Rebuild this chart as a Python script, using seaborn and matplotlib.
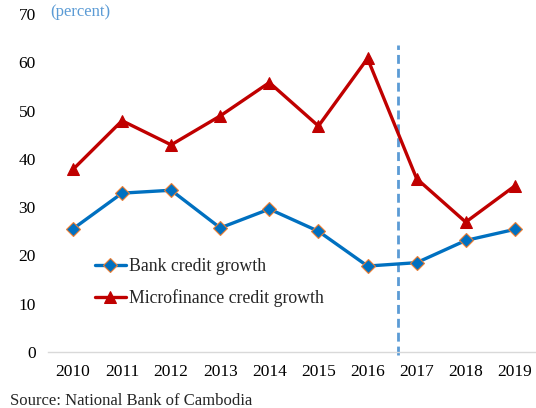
import matplotlib
matplotlib.use("Agg")
import matplotlib.pyplot as plt
import seaborn as sns
import pandas as pd

years = [2010, 2011, 2012, 2013, 2014, 2015, 2016, 2017, 2018, 2019]
bank_growth = [25.5, 32.9, 33.5, 25.7, 29.6, 25.0, 17.8, 18.5, 23.1, 25.4]
mfi_growth = [37.8, 47.9, 42.9, 48.9, 55.8, 46.8, 60.8, 35.9, 26.9, 34.4]
series_names = ["Bank credit growth", "Microfinance credit growth"]
y_ticks = [0, 10, 20, 30, 40, 50, 60, 70]
break_year = 2016.63

sns.set_theme(style="white")
plt.rcParams["font.family"] = ["Liberation Serif", "DejaVu Serif"]

df = pd.DataFrame({
    "year": years * 2,
    "growth": bank_growth + mfi_growth,
    "series": [series_names[0]] * len(years) + [series_names[1]] * len(years),
})

fig = plt.figure(figsize=(5.36, 4.08), dpi=100)
ax = fig.add_axes([48.4 / 536, 56 / 408, 491 / 536, 338 / 408])

blue = "#0070C0"
red = "#C00000"

sns.lineplot(data=df[df.series == series_names[0]], x="year", y="growth",
             ax=ax, color=blue, linewidth=2.4, marker="D", markersize=7,
             markerfacecolor=blue, markeredgecolor="#ED7D31", markeredgewidth=0.8,
             label=series_names[0], zorder=3)
sns.lineplot(data=df[df.series == series_names[1]], x="year", y="growth",
             ax=ax, color=red, linewidth=2.4, marker="^", markersize=8.5,
             markerfacecolor=red, markeredgecolor=red,
             label=series_names[1], zorder=3)

ax.plot([break_year, break_year], [-0.6, 63.5], color="#5B9BD5",
        linestyle=(0, (3.2, 1.8)), linewidth=2.0, zorder=2, clip_on=False)

ax.set_xlim(2009.5, 2019.5)
ax.set_ylim(0, 70)
ax.set_xticks(years)
ax.set_xticklabels([str(y) for y in years])
ax.set_yticks(y_ticks)
ax.set_xlabel("")
ax.set_ylabel("")
for s in ["top", "right", "left"]:
    ax.spines[s].set_visible(False)
ax.spines["bottom"].set_color("#D9D9D9")
ax.spines["bottom"].set_linewidth(1.0)
ax.tick_params(axis="both", length=0, labelsize=12.5, colors="black")
ax.tick_params(axis="x", pad=9)
ax.tick_params(axis="y", pad=9)
ax.grid(False)

leg = ax.legend(loc="upper left", bbox_to_anchor=(0.08, 0.299), frameon=False,
                fontsize=12.8, handlelength=1.75, handletextpad=0.15,
                labelspacing=0.8, borderaxespad=0)

fig.text(50 / 536, 1 - 12 / 408, "(percent)", color="#5B9BD5", fontsize=12,
         ha="left", va="center")
fig.text(10 / 536, 1 - 401 / 408, "Source: National Bank of Cambodia",
         fontsize=12, ha="left", va="center")

fig.savefig("out.png", dpi=100)
